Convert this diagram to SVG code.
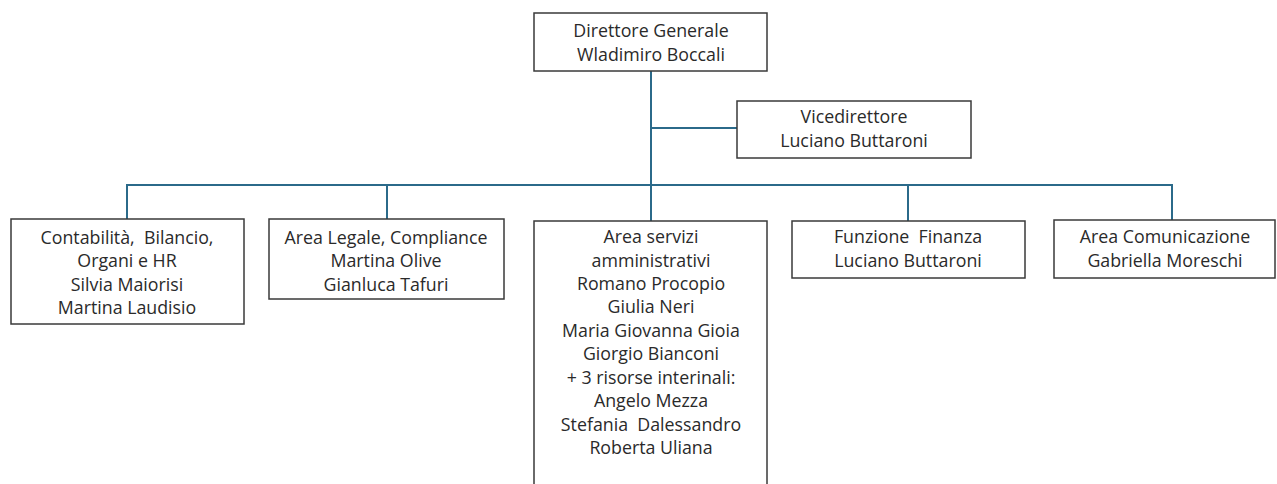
<svg xmlns="http://www.w3.org/2000/svg" width="1277" height="484" viewBox="0 0 1277 484">
<style>
.box{fill:#fff;stroke:#3a3a3a;stroke-width:1.5}
.t{font-family:"Open Sans","Liberation Sans",sans-serif;font-size:17.8px;fill:#2a2a2a;text-anchor:middle;white-space:pre}
.c{fill:none;stroke:#2b6a8a;stroke-width:2}
</style>
<rect width="1277" height="484" fill="#fff"/>
<g id="connectors">
<path class="c" d="M651 71 V221"/>
<path class="c" d="M651 128 H737"/>
<path class="c" d="M127 219 V185 H1172 V220"/>
<path class="c" d="M387 185 V219"/>
<path class="c" d="M908 185 V221"/>
</g>
<g id="n-direttore">
<rect class="box" x="534" y="13" width="233" height="58"/>
<text class="t" x="651" y="37">Direttore Generale</text>
<text class="t" x="651" y="61">Wladimiro Boccali</text>
</g>
<g id="n-vicedirettore">
<rect class="box" x="737" y="101" width="234" height="57"/>
<text class="t" x="854" y="123">Vicedirettore</text>
<text class="t" x="854" y="147">Luciano Buttaroni</text>
</g>
<g id="n-contabilita">
<rect class="box" x="11" y="219" width="233" height="105"/>
<text class="t" x="127" y="244">Contabilità,  Bilancio,</text>
<text class="t" x="127" y="267">Organi e HR</text>
<text class="t" x="127" y="291">Silvia Maiorisi</text>
<text class="t" x="127" y="314">Martina Laudisio</text>
</g>
<g id="n-legale">
<rect class="box" x="269" y="219" width="235" height="80"/>
<text class="t" x="386" y="244">Area Legale, Compliance</text>
<text class="t" x="386" y="267">Martina Olive</text>
<text class="t" x="386" y="291">Gianluca Tafuri</text>
</g>
<g id="n-servizi">
<rect class="box" x="534" y="221" width="233" height="275"/>
<text class="t" x="651" y="243">Area servizi</text>
<text class="t" x="651" y="267">amministrativi</text>
<text class="t" x="651" y="290">Romano Procopio</text>
<text class="t" x="651" y="313">Giulia Neri</text>
<text class="t" x="651" y="337">Maria Giovanna Gioia</text>
<text class="t" x="651" y="360">Giorgio Bianconi</text>
<text class="t" x="651" y="384">+ 3 risorse interinali:</text>
<text class="t" x="651" y="407">Angelo Mezza</text>
<text class="t" x="651" y="431">Stefania  Dalessandro</text>
<text class="t" x="651" y="454">Roberta Uliana</text>
</g>
<g id="n-finanza">
<rect class="box" x="792" y="221" width="233" height="57"/>
<text class="t" x="908" y="243">Funzione  Finanza</text>
<text class="t" x="908" y="267">Luciano Buttaroni</text>
</g>
<g id="n-comunicazione">
<rect class="box" x="1054" y="220" width="221" height="58"/>
<text class="t" x="1165" y="243">Area Comunicazione</text>
<text class="t" x="1165" y="267">Gabriella Moreschi</text>
</g>
</svg>
